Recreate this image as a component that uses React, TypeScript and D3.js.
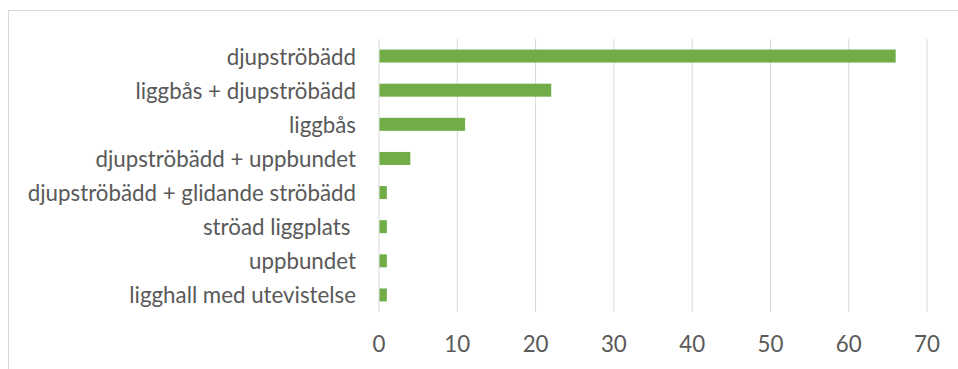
import React from "react";
import * as d3 from "d3";

const categories = [
  "djupströbädd",
  "liggbås + djupströbädd",
  "liggbås",
  "djupströbädd + uppbundet",
  "djupströbädd + glidande ströbädd",
  "ströad liggplats ",
  "uppbundet",
  "ligghall med utevistelse",
];
const values = [66, 22, 11, 4, 1, 1, 1, 1];
const xTicks = [0, 10, 20, 30, 40, 50, 60, 70];

const W = 958;
const H = 369;
const FONT = "Lato, 'Open Sans', sans-serif";
const FS = 22.3;

export default function App() {
  const x = d3.scaleLinear().domain([0, 70]).range([379, 927]);
  const y = d3.scaleBand<string>().domain(categories).range([39, 312]).paddingInner(0.62).paddingOuter(0.31);

  return (
    <svg
      width={W}
      height={H}
      style={{ position: "absolute", left: 0, top: 0, display: "block" }}
    >
      <rect x={0} y={0} width={W} height={H} fill="#ffffff" />
      <rect x={8.5} y={10.5} width={W + 20} height={H + 20} fill="none" stroke="#d9d9d9" strokeWidth={1} />
      {xTicks.map((t) => (
        <line key={t} x1={x(t)} x2={x(t)} y1={39} y2={312} stroke="#d9d9d9" strokeWidth={1} />
      ))}
      {categories.map((c, i) => (
        <rect key={c} x={x(0) + 0.5} y={y(c)} width={x(values[i]) - x(0) - 0.5} height={y.bandwidth()} fill="#70ad47" />
      ))}
      {categories.map((c) => (
        <text
          key={c}
          x={356}
          y={(y(c) as number) + y.bandwidth() / 2}
          textAnchor="end"
          dominantBaseline="central"
          fontFamily={FONT}
          fontSize={FS}
          fill="#595959"
          style={{ whiteSpace: "pre" }}
        >
          {c}
        </text>
      ))}
      {xTicks.map((t) => (
        <text
          key={t}
          x={x(t)}
          y={343}
          textAnchor="middle"
          dominantBaseline="central"
          fontFamily={FONT}
          fontSize={FS}
          fill="#595959"
        >
          {t}
        </text>
      ))}
    </svg>
  );
}
